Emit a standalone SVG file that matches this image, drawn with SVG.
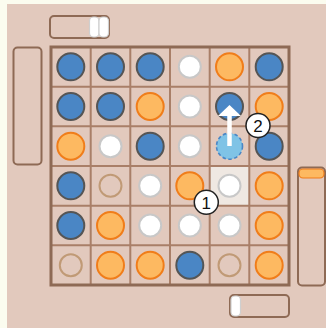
<svg xmlns="http://www.w3.org/2000/svg" width="326" height="328" viewBox="0 0 326 328">
<style>
.slot{fill:none;stroke:#8e6a55;stroke-width:2}
.pillw{fill:#fff;stroke:#cfcfcf;stroke-width:1.2}
.grid{stroke:#a97f68;stroke-width:2;fill:none}
.border{fill:none;stroke:#8e6a55;stroke-width:3}
.blue{fill:#4a86c5;stroke:#555;stroke-width:2}
.orange{fill:#fdb961;stroke:#f07d1a;stroke-width:2}
.white{fill:#fff;stroke:#c8c8c8;stroke-width:2}
.ring{fill:none;stroke:#c09a76;stroke-width:2}
.lbl circle{fill:#fff;stroke:#222;stroke-width:1.5}
.lbl text{font-family:"Liberation Sans",Arial,sans-serif;font-size:17px;fill:#111;text-anchor:middle;dominant-baseline:central}
</style>
<rect width="326" height="328" fill="#fbfcef"/>
<rect x="7" y="4" width="319" height="324" fill="#e2c9bd"/>
<g id="slot-top">
<rect class="slot" x="50" y="16" width="59" height="22" rx="4"/>
<rect class="pillw" x="89.5" y="17" width="9.5" height="20" rx="4"/>
<rect class="pillw" x="99" y="17" width="9.5" height="20" rx="4"/>
</g>
<g id="slot-left">
<rect class="slot" x="13.5" y="47.5" width="28" height="117" rx="4"/>
</g>
<g id="slot-right">
<rect class="slot" x="298" y="167.5" width="27" height="118" rx="4"/>
<rect x="299" y="169" width="25" height="9" rx="4" fill="#fdb961" stroke="#f07d1a" stroke-width="1.2"/>
</g>
<g id="slot-bottom">
<rect class="slot" x="230" y="295" width="59" height="22" rx="4"/>
<rect class="pillw" x="231" y="296" width="9.5" height="20" rx="4"/>
</g>
<g id="board">
<rect x="209.7" y="166" width="39.6" height="39.7" fill="#efe8e2"/>
<path class="grid" d="M90.7 47V285M130.3 47V285M170 47V285M209.7 47V285M249.3 47V285M51 86.7H289M51 126.3H289M51 166H289M51 205.7H289M51 245.3H289"/>
<rect class="border" x="51" y="47" width="238" height="238"/>
</g>
<g id="pieces">
<circle class="blue" cx="70.8" cy="66.8" r="13.5"/>
<circle class="blue" cx="110.5" cy="66.8" r="13.5"/>
<circle class="blue" cx="150.2" cy="66.8" r="13.5"/>
<circle class="white" cx="189.8" cy="66.8" r="11"/>
<circle class="orange" cx="229.5" cy="66.8" r="13.5"/>
<circle class="blue" cx="269.2" cy="66.8" r="13.5"/>
<circle class="blue" cx="70.8" cy="106.5" r="13.5"/>
<circle class="blue" cx="110.5" cy="106.5" r="13.5"/>
<circle class="orange" cx="150.2" cy="106.5" r="13.5"/>
<circle class="white" cx="189.8" cy="106.5" r="11"/>
<circle class="blue" cx="229.5" cy="106.5" r="13.5"/>
<circle class="orange" cx="269.2" cy="106.5" r="13.5"/>
<circle class="orange" cx="70.8" cy="146.2" r="13.5"/>
<circle class="white" cx="110.5" cy="146.2" r="11"/>
<circle class="blue" cx="150.2" cy="146.2" r="13.5"/>
<circle class="white" cx="189.8" cy="146.2" r="11"/>
<circle cx="229.5" cy="146.2" r="13" fill="#7fc3e6" stroke="#4a86c5" stroke-width="1.6" stroke-dasharray="3.5 2.5"/>
<circle class="blue" cx="269.2" cy="146.2" r="13.5"/>
<circle class="blue" cx="70.8" cy="185.8" r="13.5"/>
<circle class="ring" cx="110.5" cy="185.8" r="11"/>
<circle class="white" cx="150.2" cy="185.8" r="11"/>
<circle class="orange" cx="189.8" cy="185.8" r="13.5"/>
<circle class="white" cx="229.5" cy="185.8" r="11"/>
<circle class="orange" cx="269.2" cy="185.8" r="13.5"/>
<circle class="blue" cx="70.8" cy="225.5" r="13.5"/>
<circle class="orange" cx="110.5" cy="225.5" r="13.5"/>
<circle class="white" cx="150.2" cy="225.5" r="11"/>
<circle class="white" cx="189.8" cy="225.5" r="11"/>
<circle class="white" cx="229.5" cy="225.5" r="11"/>
<circle class="orange" cx="269.2" cy="225.5" r="13.5"/>
<circle class="ring" cx="70.8" cy="265.2" r="11"/>
<circle class="orange" cx="110.5" cy="265.2" r="13.5"/>
<circle class="orange" cx="150.2" cy="265.2" r="13.5"/>
<circle class="blue" cx="189.8" cy="265.2" r="13.5"/>
<circle class="ring" cx="229.5" cy="265.2" r="11"/>
<circle class="orange" cx="269.2" cy="265.2" r="13.5"/>
</g>
<g id="connectors">
<path d="M229.5 146V114" stroke="#fff" stroke-width="4.5" fill="none"/>
<path d="M229.5 105L218 116H241Z" fill="#fff"/>
</g>
<g id="label-1" class="lbl">
<circle cx="206.3" cy="202.3" r="12"/>
<text x="206.3" y="203">1</text>
</g>
<g id="label-2" class="lbl">
<circle cx="258" cy="125.5" r="12"/>
<text x="258" y="126.2">2</text>
</g>
</svg>
